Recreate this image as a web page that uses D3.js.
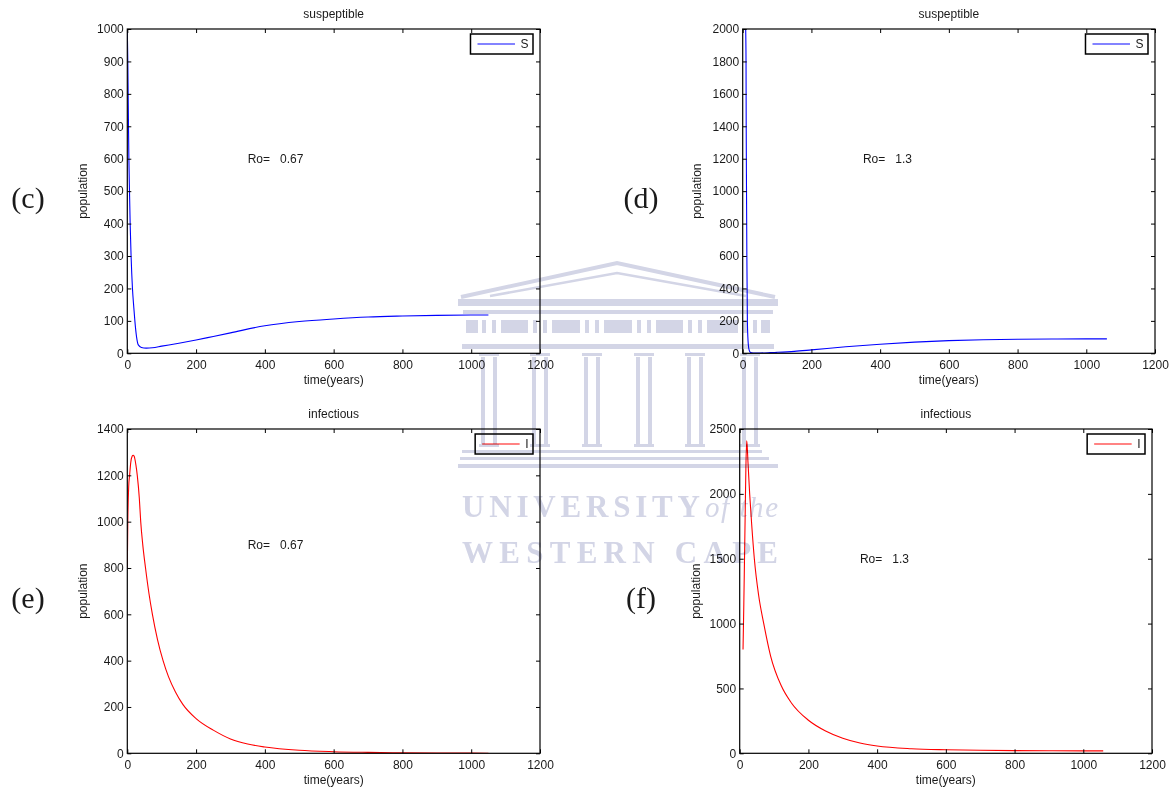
<!DOCTYPE html>
<html>
<head>
<meta charset="utf-8">
<script src="https://cdn.jsdelivr.net/npm/d3@7"></script>
<style>
  html, body { margin: 0; padding: 0; background: #fff; }
  svg { display: block; }
  text { font-family: "Liberation Sans", Arial, Helvetica, sans-serif; fill: #1a1a1a; }
</style>
</head>
<body>
<svg id="fig" width="1175" height="789"></svg>
<script>
// ---- time axis (years) shared by all panels ----
const xTicks = [0, 200, 400, 600, 800, 1000, 1200];

// ---- (c) susceptible, Ro = 0.67 ----
const sTimeLow = [0, 1.5, 2.5, 3.5, 4.6, 6.4, 8.3, 11, 15, 19, 22, 27, 32, 41, 55, 73, 100, 150, 200, 250, 300, 400, 500, 600, 700, 800, 900, 1000, 1050];
const sValLow  = [1000, 900, 800, 700, 600, 500, 400, 300, 200, 140, 100, 50, 26, 18, 16, 17, 22, 31, 41, 52, 63, 85, 98, 106, 112, 115, 117, 118, 118];
const yTicksSLow = [0, 100, 200, 300, 400, 500, 600, 700, 800, 900, 1000];

// ---- (d) susceptible, Ro = 1.3 ----
const sTimeHigh = [8.7, 9.7, 10.2, 11.1, 12.1, 13.6, 15, 16.5, 19, 23, 30, 50, 80, 100, 150, 200, 300, 400, 500, 600, 700, 800, 900, 1000, 1060];
const sValHigh  = [2000, 1800, 1400, 1000, 600, 200, 100, 50, 18, 5, 2, 2, 4, 6, 12, 21, 40, 56, 69, 78, 84, 87, 88, 89, 89];
const yTicksSHigh = [0, 200, 400, 600, 800, 1000, 1200, 1400, 1600, 1800, 2000];

// ---- (e) infectious, Ro = 0.67 ----
const iTimeLow = [0, 1.5, 4, 7, 10, 14, 17, 20, 25, 29, 35, 39, 45, 53, 63, 73, 88, 104, 120, 140, 162, 200, 250, 300, 350, 400, 500, 600, 700, 800, 900, 1000, 1050];
const iValLow  = [800, 1000, 1150, 1205, 1255, 1282, 1287, 1282, 1245, 1200, 1100, 1000, 900, 800, 690, 600, 490, 400, 330, 265, 210, 150, 100, 62, 40, 27, 13, 7, 4, 2, 1, 0.7, 0.5];
const yTicksILow = [0, 200, 400, 600, 800, 1000, 1200, 1400];

// ---- (f) infectious, Ro = 1.3 ----
const iTimeHigh = [9.7, 12, 14, 16, 18, 20.3, 22, 24, 29, 35, 42.6, 55, 70, 90, 121, 150, 200, 250, 300, 350, 400, 500, 600, 700, 800, 900, 1000, 1058];
const iValHigh  = [800, 1150, 1500, 1850, 2200, 2410, 2360, 2250, 2000, 1760, 1500, 1220, 1000, 750, 520, 390, 255, 172, 116, 79, 56, 35, 27, 23, 21, 20, 19, 19];
const yTicksIHigh = [0, 500, 1000, 1500, 2000, 2500];

// ---- text ----
const panelTags = ["(c)", "(d)", "(e)", "(f)"];
const panelTitles = ["suspeptible", "suspeptible", "infectious", "infectious"];
const legendNames = ["S", "S", "I", "I"];
const roValues = ["0.67", "1.3", "0.67", "1.3"];
const roAnchorT = [350, 350, 350, 350];
const roAnchorV = [600, 1200, 900, 1500];
const xLabel = "time(years)";
const yLabel = "population";

// ---- layout ----
const svg = d3.select("#fig");
svg.append("rect").attr("width", 1175).attr("height", 789).attr("fill", "#fff");

const panels = [
  { box: { x0: 127.3, x1: 540,  y0: 29,  y1: 353.3 }, t: sTimeLow,  v: sValLow,  yTicks: yTicksSLow,  color: "#0000ff", legendColor: "#5a5aff", tagX: 28,  ylabX: 83 },
  { box: { x0: 742.7, x1: 1155, y0: 29,  y1: 353.3 }, t: sTimeHigh, v: sValHigh, yTicks: yTicksSHigh, color: "#0000ff", legendColor: "#5a5aff", tagX: 641, ylabX: 697 },
  { box: { x0: 127.3, x1: 540,  y0: 429, y1: 753.3 }, t: iTimeLow,  v: iValLow,  yTicks: yTicksILow,  color: "#ff0000", legendColor: "#ff5a5a", tagX: 28,  ylabX: 83 },
  { box: { x0: 739.7, x1: 1152, y0: 429, y1: 753.3 }, t: iTimeHigh, v: iValHigh, yTicks: yTicksIHigh, color: "#ff0000", legendColor: "#ff5a5a", tagX: 641, ylabX: 696 }
];

panels.forEach((p, i) => {
  const b = p.box;
  const x = d3.scaleLinear().domain([0, 1200]).range([b.x0, b.x1]);
  const y = d3.scaleLinear().domain([0, d3.max(p.yTicks)]).range([b.y1, b.y0]);
  const g = svg.append("g");

  // clip region for the curve
  const clipId = "clip" + i;
  svg.append("clipPath").attr("id", clipId)
    .append("rect").attr("x", b.x0).attr("y", b.y0)
    .attr("width", b.x1 - b.x0).attr("height", b.y1 - b.y0);

  // curve
  const pts = p.t.map((t, k) => [t, p.v[k]]);
  const line = d3.line().x(d => x(d[0])).y(d => y(d[1])).curve(d3.curveMonotoneX);
  g.append("path").datum(pts)
    .attr("clip-path", `url(#${clipId})`)
    .attr("d", line)
    .attr("fill", "none")
    .attr("stroke", p.color)
    .attr("stroke-width", 1.1)
    .attr("stroke-linejoin", "round");

  // axes: inward ticks on all four sides, labels on bottom and left
  const styleAxis = sel => {
    sel.select(".domain").remove();
    sel.selectAll(".tick line").attr("stroke", "#000").attr("stroke-width", 1);
    sel.selectAll(".tick text").attr("fill", "#1a1a1a");
    sel.attr("font-family", "Liberation Sans, Arial, sans-serif").attr("font-size", 12);
  };
  g.append("g").attr("transform", `translate(0,${b.y1})`)
    .call(d3.axisBottom(x).tickValues(xTicks).tickSize(-4).tickPadding(7).tickFormat(d3.format("d")))
    .call(styleAxis);
  g.append("g").attr("transform", `translate(0,${b.y0})`)
    .call(d3.axisTop(x).tickValues(xTicks).tickSize(-4).tickFormat(""))
    .call(styleAxis);
  g.append("g").attr("transform", `translate(${b.x0},0)`)
    .call(d3.axisLeft(y).tickValues(p.yTicks).tickSize(-4).tickPadding(3.5).tickFormat(d3.format("d")))
    .call(styleAxis);
  g.append("g").attr("transform", `translate(${b.x1},0)`)
    .call(d3.axisRight(y).tickValues(p.yTicks).tickSize(-4).tickFormat(""))
    .call(styleAxis);

  // frame
  g.append("rect")
    .attr("x", b.x0).attr("y", b.y0)
    .attr("width", b.x1 - b.x0).attr("height", b.y1 - b.y0)
    .attr("fill", "none").attr("stroke", "#000").attr("stroke-width", 1.2);

  // title and axis labels
  const cx = (b.x0 + b.x1) / 2;
  g.append("text").attr("x", cx).attr("y", b.y0 - 11)
    .attr("text-anchor", "middle").attr("font-size", 12).text(panelTitles[i]);
  g.append("text").attr("x", cx).attr("y", b.y1 + 31)
    .attr("text-anchor", "middle").attr("font-size", 12).text(xLabel);
  g.append("text")
    .attr("transform", `translate(${p.ylabX},${(b.y0 + b.y1) / 2}) rotate(-90)`)
    .attr("text-anchor", "middle").attr("dominant-baseline", "central")
    .attr("font-size", 12).text(yLabel);

  // Ro annotation, placed in data coordinates
  g.append("text")
    .attr("x", x(roAnchorT[i])).attr("y", y(roAnchorV[i]))
    .attr("dominant-baseline", "central")
    .attr("font-size", 12)
    .style("white-space", "pre")
    .text("Ro=   " + roValues[i]);

  // sub-figure tag
  g.append("text")
    .attr("x", p.tagX).attr("y", (b.y0 + b.y1) / 2 + 17)
    .attr("text-anchor", "middle")
    .style("font-family", "'Liberation Serif', 'DejaVu Serif', serif")
    .attr("font-size", 30)
    .text(panelTags[i]);

  // legend
  const lg = g.append("g");
  const lbl = lg.append("text").attr("font-size", 12).text(legendNames[i]);
  const lw = 50 + lbl.node().getComputedTextLength() + 4.5;
  const lx = b.x1 - 7 - lw, ly = b.y0 + 5;
  lg.insert("rect", "text")
    .attr("x", lx).attr("y", ly).attr("width", lw).attr("height", 20)
    .attr("fill", "#fff").attr("stroke", "#000").attr("stroke-width", 1.5);
  lg.append("line")
    .attr("x1", lx + 7).attr("x2", lx + 44.5)
    .attr("y1", ly + 10).attr("y2", ly + 10)
    .attr("stroke", p.legendColor).attr("stroke-width", 1.3);
  lbl.attr("x", lx + 50).attr("y", ly + 14.3);
});

// ---- faint university crest printed across the page ----
(function drawCrest() {
  const c = "#d3d5e6";
  const wm = svg.append("g").style("mix-blend-mode", "multiply");
  // pediment: two roof lines
  wm.append("polyline")
    .attr("points", "461,297 617,263 775,297")
    .attr("fill", "none").attr("stroke", c).attr("stroke-width", 4).attr("stroke-linejoin", "miter");
  wm.append("polyline")
    .attr("points", "490,296 617,273 746,296")
    .attr("fill", "none").attr("stroke", c).attr("stroke-width", 2.5);
  // cornice and fascia
  wm.append("rect").attr("x", 458).attr("y", 299).attr("width", 320).attr("height", 7).attr("fill", c);
  wm.append("rect").attr("x", 463).attr("y", 310).attr("width", 310).attr("height", 4).attr("fill", c);
  // frieze: metope blocks and triglyph bars
  const colCx = [489, 540, 592, 644, 695, 750];
  colCx.forEach((cx, k) => {
    wm.append("rect").attr("x", cx - 7).attr("y", 320).attr("width", 4).attr("height", 13).attr("fill", c);
    wm.append("rect").attr("x", cx + 3).attr("y", 320).attr("width", 4).attr("height", 13).attr("fill", c);
    if (k < colCx.length - 1) {
      wm.append("rect").attr("x", cx + 12).attr("y", 320)
        .attr("width", colCx[k + 1] - cx - 24).attr("height", 13).attr("fill", c);
    }
  });
  wm.append("rect").attr("x", 466).attr("y", 320).attr("width", 12).attr("height", 13).attr("fill", c);
  wm.append("rect").attr("x", 761).attr("y", 320).attr("width", 9).attr("height", 13).attr("fill", c);
  // architrave
  wm.append("rect").attr("x", 462).attr("y", 344).attr("width", 312).attr("height", 5).attr("fill", c);
  // columns
  colCx.forEach(cx => {
    wm.append("rect").attr("x", cx - 10).attr("y", 353).attr("width", 20).attr("height", 3).attr("fill", c);
    wm.append("rect").attr("x", cx - 8).attr("y", 357).attr("width", 4).attr("height", 87).attr("fill", c);
    wm.append("rect").attr("x", cx + 4).attr("y", 357).attr("width", 4).attr("height", 87).attr("fill", c);
    wm.append("rect").attr("x", cx - 10).attr("y", 444).attr("width", 20).attr("height", 3).attr("fill", c);
  });
  // steps
  wm.append("rect").attr("x", 462).attr("y", 450).attr("width", 300).attr("height", 3).attr("fill", c);
  wm.append("rect").attr("x", 460).attr("y", 457).attr("width", 309).attr("height", 3).attr("fill", c);
  wm.append("rect").attr("x", 458).attr("y", 464).attr("width", 320).attr("height", 4).attr("fill", c);
  // lettering
  const serif = "'Liberation Serif', 'DejaVu Serif', serif";
  wm.append("text").attr("x", 462).attr("y", 517)
    .style("font-family", serif).style("fill", c).attr("font-weight", "bold").attr("font-size", 31)
    .attr("textLength", 238).attr("lengthAdjust", "spacing").text("UNIVERSITY");
  wm.append("text").attr("x", 705).attr("y", 517)
    .style("font-family", serif).style("fill", c).attr("font-style", "italic").attr("font-size", 29)
    .attr("textLength", 73).attr("lengthAdjust", "spacing").text("of the");
  wm.append("text").attr("x", 462).attr("y", 563)
    .style("font-family", serif).style("fill", c).attr("font-weight", "bold").attr("font-size", 31)
    .attr("textLength", 316).attr("lengthAdjust", "spacing").text("WESTERN CAPE");
})();
</script>
</body>
</html>
